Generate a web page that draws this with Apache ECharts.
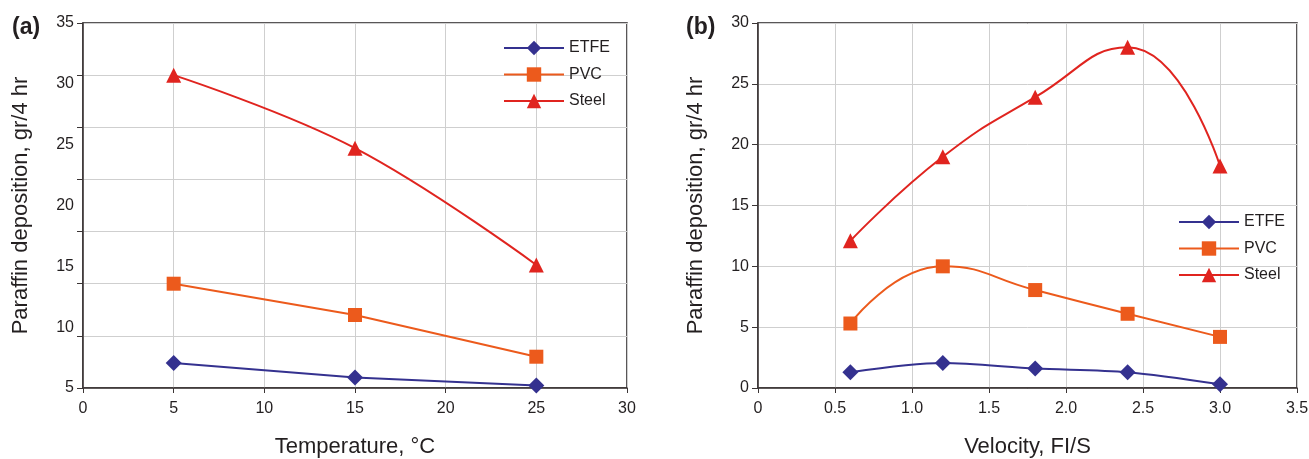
<!DOCTYPE html>
<html>
<head>
<meta charset="utf-8">
<script src="https://cdn.jsdelivr.net/npm/echarts@6/dist/echarts.min.js"></script>
<style>
  html, body { margin: 0; padding: 0; background: #fff; }
  #chart { width: 1309px; height: 459px; }
</style>
</head>
<body>
<div id="chart"></div>
<script>
// (a) temperature panel
const tempX = [5, 15, 25]
const tempETFE = [2.4, 1.0, 0.25]
const tempPVC = [10.0, 7.0, 3.0]
const tempSteel = [30.0, 23.0, 11.8]
const tempYLabels = [5, 10, 15, 20, 25, 30, 35] // printed labels (do not line up with the grid in the original)

// (b) velocity panel
const velX = [0.6, 1.2, 1.8, 2.4, 3.0]
const velETFE = [1.3, 2.05, 1.6, 1.3, 0.3]
const velPVC = [5.3, 10.0, 8.05, 6.1, 4.2]
const velSteel = [12.1, 19.0, 23.9, 28.0, 18.25]

const seriesNames = ['ETFE', 'PVC', 'Steel']
const colors = {ETFE: '#34318f', PVC: '#ec5a1c', Steel: '#e0241f'}
const symbols = {ETFE: 'diamond', PVC: 'rect', Steel: 'triangle'}
const sizes = {ETFE: 16, PVC: 14, Steel: 15}

const font = 'Liberation Sans, Arial, Helvetica, sans-serif'
const ink = '#231f20'
const gridGray = '#cfcfcf'

function pairs(xs, ys){
  return xs.map((x, i) => [x, ys[i]])
}

function makeSeries(name, xs, ys, axisIdx, smooth){
  return {
    name: name,
    type: 'line',
    xAxisIndex: axisIdx.x,
    yAxisIndex: axisIdx.y,
    data: pairs(xs, ys),
    smooth: smooth,
    symbol: symbols[name],
    symbolSize: sizes[name],
    showAllSymbol: true,
    lineStyle: {color: colors[name], width: 2},
    itemStyle: {color: colors[name]},
    emphasis: {disabled: true},
    z: name === 'Steel' ? 3 : 2
  }
}

// legend block
function makeLegend(left, top){
  return {
    data: seriesNames, left: left, top: top, orient: 'vertical', padding: 0,
    itemWidth: 60, itemHeight: 18, itemGap: 8.5,
    textStyle: {fontSize: 16, color: ink, fontFamily: font, lineHeight: 18},
    selectedMode: false
  }
}

const tickLabel = {color: ink, fontSize: 16, fontFamily: font}
const axisLineStyle = {lineStyle: {color: '#3b3535', width: 1.5}}
const nameStyle = {color: ink, fontSize: 22, fontFamily: font}

let chart = echarts.init(document.getElementById('chart'))

let option = {
  animation: false,
  backgroundColor: '#fff',
  title: [
    {text: '(a)', left: 7, top: 11, textStyle: {fontSize: 23, fontWeight: 'bold', color: ink, fontFamily: font}},
    {text: '(b)', left: 681, top: 11, textStyle: {fontSize: 23, fontWeight: 'bold', color: ink, fontFamily: font}}
  ],
  legend: [makeLegend(503, 39), makeLegend(1178, 213)],
  grid: [
    {left: 83, top: 23, width: 544, height: 365, show: true, borderColor: ink, borderWidth: 1.5, containLabel: false, outerBoundsMode: 'none'},
    {left: 758, top: 23, width: 539, height: 365, show: true, borderColor: ink, borderWidth: 1.5, containLabel: false, outerBoundsMode: 'none'}
  ],
  xAxis: [
    {
      gridIndex: 0, type: 'value', min: 0, max: 30, interval: 5,
      name: 'Temperature, °C', nameLocation: 'middle', nameGap: 48, nameTextStyle: nameStyle,
      axisLine: axisLineStyle,
      axisTick: {show: true, length: 5, lineStyle: {color: '#3b3535'}},
      axisLabel: Object.assign({margin: 13}, tickLabel),
      splitLine: {show: true, lineStyle: {color: gridGray, width: 1}}
    },
    {
      gridIndex: 1, type: 'value', min: 0, max: 3.5, interval: 0.5,
      name: 'Velocity, FI/S', nameLocation: 'middle', nameGap: 48, nameTextStyle: nameStyle,
      axisLine: axisLineStyle,
      axisTick: {show: true, length: 5, lineStyle: {color: '#3b3535'}},
      axisLabel: Object.assign({margin: 13, formatter: v => v === 0 ? '0' : v.toFixed(1)}, tickLabel),
      splitLine: {show: true, lineStyle: {color: gridGray, width: 1}}
    }
  ],
  yAxis: [
    // data scale of panel (a): grid and ticks only
    {
      gridIndex: 0, type: 'value', min: 0, max: 35, interval: 5,
      name: 'Paraffin deposition, gr/4 hr', nameLocation: 'middle', nameGap: 51, nameTextStyle: nameStyle,
      axisLine: axisLineStyle,
      axisTick: {show: true, length: 6, lineStyle: {color: '#3b3535'}},
      axisLabel: {show: false},
      splitLine: {show: true, lineStyle: {color: gridGray, width: 1}}
    },
    // printed labels of panel (a)
    {
      gridIndex: 0, type: 'value', position: 'left',
      min: tempYLabels[0], max: tempYLabels[tempYLabels.length - 1], interval: 5,
      axisLine: {show: false}, axisTick: {show: false}, splitLine: {show: false},
      axisLabel: Object.assign({margin: 9}, tickLabel)
    },
    {
      gridIndex: 1, type: 'value', min: 0, max: 30, interval: 5,
      name: 'Paraffin deposition, gr/4 hr', nameLocation: 'middle', nameGap: 51, nameTextStyle: nameStyle,
      axisLine: axisLineStyle,
      axisTick: {show: true, length: 6, lineStyle: {color: '#3b3535'}},
      axisLabel: Object.assign({margin: 9}, tickLabel),
      splitLine: {show: true, lineStyle: {color: gridGray, width: 1}}
    }
  ],
  series: [
    makeSeries('ETFE', tempX, tempETFE, {x: 0, y: 0}, false),
    makeSeries('PVC', tempX, tempPVC, {x: 0, y: 0}, false),
    makeSeries('Steel', tempX, tempSteel, {x: 0, y: 0}, 0.4),
    makeSeries('ETFE', velX, velETFE, {x: 1, y: 2}, 0.3),
    makeSeries('PVC', velX, velPVC, {x: 1, y: 2}, 0.5),
    makeSeries('Steel', velX, velSteel, {x: 1, y: 2}, 0.5)
  ]
}

chart.setOption(option)
</script>
</body>
</html>
